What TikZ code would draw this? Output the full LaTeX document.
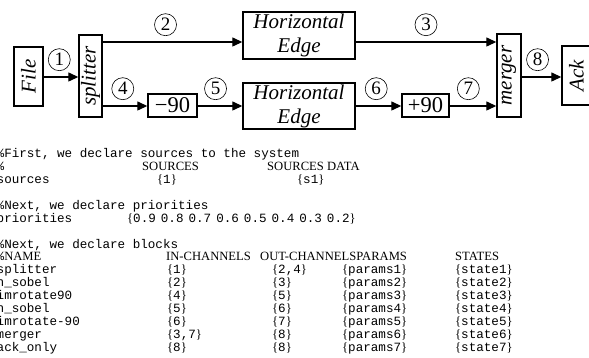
\documentclass[tikz,border=0pt]{standalone}
\usepackage{fontspec}
\usepackage{graphicx}
\setmainfont{Liberation Serif}
\setmonofont{Liberation Mono}
\usetikzlibrary{arrows.meta}
\newcommand\br[1]{\{\texttt{#1}\}}
\newcommand\blockrow[5]{\makebox[170.5pt][l]{\texttt{#1}}\makebox[105pt][l]{\br{#2}}\makebox[70pt][l]{\br{#3}}\makebox[113pt][l]{\br{#4}}\br{#5}}

\begin{document}
\begin{tikzpicture}[x=1pt, y=-1pt,
	box/.style = {draw, line width=1.4pt, inner sep=0pt, font=\fontsize{21}{24}\selectfont\itshape},
	rot/.style = {box, font=\fontsize{22.5}{24}\selectfont},
	num/.style = {draw, circle, line width=0.6pt, inner sep=0pt, minimum size=22pt, font=\fontsize{19}{19}\selectfont},
	arr/.style = {-{Triangle[length=10pt, width=9pt]}, line width=1.3pt},
	txt/.style = {anchor=base west, inner sep=0pt, font=\fontsize{12.6}{12.9}\selectfont}]
	\useasboundingbox (0,0) rectangle (589,358);
	% the blocks
	\node[box, minimum width=29pt, minimum height=59pt] (file) at (28.5,76.5) {\rotatebox{90}{File}};
	\node[box, minimum width=23pt, minimum height=82pt] (split) at (90.5,76) {\rotatebox{90}{splitter}};
	\node[box, minimum width=112pt, minimum height=47pt, align=center] (edge1) at (299,35.5) {Horizontal\\Edge};
	\node[box, minimum width=112pt, minimum height=46pt, align=center] (edge2) at (299,106) {Horizontal\\Edge};
	\node[rot, minimum width=49pt, minimum height=23pt] (rotm) at (172.5,105.5) {−90};
	\node[rot, minimum width=47pt, minimum height=23pt] (rotp) at (425.5,105.5) {+90};
	\node[box, minimum width=24pt, minimum height=83pt] (merge) at (509,75.5) {\rotatebox{90}{merger}};
	\node[box, minimum width=29pt, minimum height=59pt] (ack) at (576.5,75.5) {\rotatebox{90}{Ack}};
	\coordinate (up) at (0,42);
	\coordinate (mid) at (0,77);
	\coordinate (low) at (0,106);
	% the channels
	\draw[arr] (file.east |- mid) -- (split.west |- mid) node[num, pos=0.45, above=6pt] (n1) {1};
	\draw[arr] (split.east |- up) -- (edge1.west |- up) node[num, pos=0.45, above=6pt] (n2) {2};
	\draw[arr] (edge1.east |- up) -- (merge.west |- up) node[num, pos=0.5, above=6pt] (n3) {3};
	\draw[arr] (split.east |- low) -- (rotm.west |- low) node[num, pos=0.45, above=6pt] (n4) {4};
	\draw[arr] (rotm.east |- low) -- (edge2.west |- low) node[num, pos=0.4, above=6pt] (n5) {5};
	\draw[arr] (edge2.east |- low) -- (rotp.west |- low) node[num, pos=0.45, above=6pt] (n6) {6};
	\draw[arr] (rotp.east |- low) -- (merge.west |- low) node[num, pos=0.4, above=6pt] (n7) {7};
	\draw[arr] (merge.east |- mid) -- (ack.west |- mid) node[num, pos=0.4, above=6pt] (n8) {8};
	% the listing
	\node[txt] (l0) at (-3.5,157.7) {\texttt{\%First, we declare sources to the system}};
	\node[txt] (l1) at (-3.5,170.6) {\makebox[145.5pt][l]{\texttt{\%}}\makebox[125pt][l]{SOURCES}SOURCES DATA};
	\node[txt] (l2) at (-3.5,183.5) {\makebox[160.5pt][l]{\texttt{sources}}\makebox[140pt][l]{\br{1}}\br{s1}};
	\node[txt] (l4) at (-3.5,209.3) {\texttt{\%Next, we declare priorities}};
	\node[txt] (l5) at (-3.5,222.2) {\makebox[130.5pt][l]{\texttt{priorities}}\{\texttt{\spaceskip=5pt\relax 0.9 0.8 0.7 0.6 0.5 0.4 0.3 0.2}\}};
	\node[txt] (l7) at (-3.5,248) {\texttt{\%Next, we declare blocks}};
	\node[txt] (l8) at (-3.5,260.9) {\makebox[169.5pt][l]{\texttt{\%}NAME}\makebox[94pt][l]{IN-CHANNELS}\makebox[195pt][l]{OUT-CHANNELSPARAMS}STATES};
	\node[txt] (l9) at (-3.5,273.8) {\blockrow{splitter}{1}{2,4}{params1}{state1}};
	\node[txt] (l10) at (-3.5,286.7) {\blockrow{h\_sobel}{2}{3}{params2}{state2}};
	\node[txt] (l11) at (-3.5,299.6) {\blockrow{imrotate90}{4}{5}{params3}{state3}};
	\node[txt] (l12) at (-3.5,312.5) {\blockrow{h\_sobel}{5}{6}{params4}{state4}};
	\node[txt] (l13) at (-3.5,325.4) {\blockrow{imrotate-90}{6}{7}{params5}{state5}};
	\node[txt] (l14) at (-3.5,338.3) {\blockrow{merger}{3,7}{8}{params6}{state6}};
	\node[txt] (l15) at (-3.5,351.2) {\blockrow{ack\_only}{8}{8}{params7}{state7}};
\end{tikzpicture}
\end{document}
